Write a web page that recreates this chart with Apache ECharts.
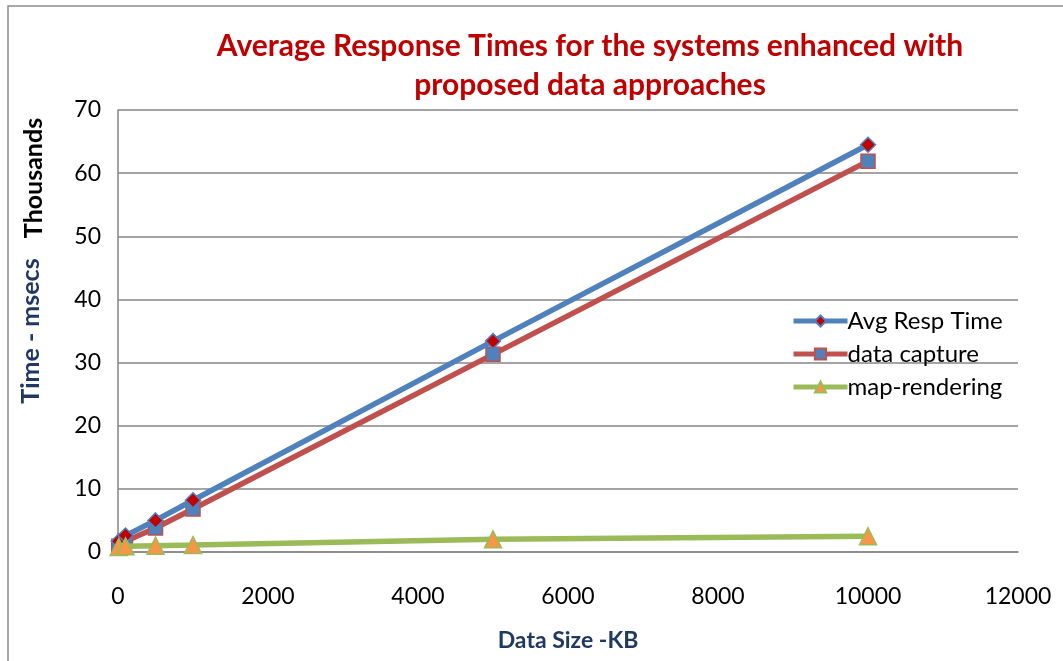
<!DOCTYPE html>
<html>
<head>
<meta charset="utf-8">
<script src="https://cdn.jsdelivr.net/npm/echarts@6/dist/echarts.min.js"></script>
<style>
  html, body { margin: 0; padding: 0; background: #fff; overflow: hidden; }
  #chart { width: 1063px; height: 661px; }
</style>
</head>
<body>
<div id="chart"></div>
<script>
// Data size in KB and response times in milliseconds
const dataSizes = [10, 100, 500, 1000, 5000, 10000];
const avgRespTime = [1700, 2600, 5000, 8200, 33400, 64500];
const dataCapture = [900, 1700, 3800, 6800, 31300, 61900];
const mapRendering = [800, 900, 1000, 1100, 2000, 2500];

const seriesNames = ['Avg Resp Time', 'data capture', 'map-rendering'];
const xTicks = { min: 0, max: 12000, step: 2000 };
const yTicks = { min: 0, max: 70000, step: 10000 };

const pairs = ys => dataSizes.map((x, i) => [x, ys[i]]);

const labelFont = 'Lato, "Open Sans", sans-serif';
const chart = echarts.init(document.getElementById('chart'));

chart.setOption({
  animation: false,
  backgroundColor: '#fff',
  title: {
    text: 'Average Response Times for the systems enhanced with\nproposed data approaches',
    left: 585,
    textAlign: 'center',
    top: 22,
    textStyle: {
      color: '#C00000',
      fontFamily: labelFont,
      fontWeight: 'bold',
      fontSize: 30,
      lineHeight: 39
    }
  },
  grid: { left: 118, width: 900, top: 110, height: 442, containLabel: false },
  legend: {
    orient: 'vertical',
    left: 786,
    top: 304,
    itemWidth: 54,
    itemHeight: 14,
    itemGap: 9,
    data: seriesNames,
    lineStyle: { width: 5 },
    textStyle: { color: '#000', fontFamily: labelFont, fontSize: 24, padding: [0, 0, 0, -5] }
  },
  xAxis: {
    type: 'value',
    min: xTicks.min,
    max: xTicks.max,
    interval: xTicks.step,
    name: 'Data Size -KB',
    nameLocation: 'middle',
    nameGap: 77,
    nameTextStyle: { color: '#1F3864', fontFamily: labelFont, fontWeight: 'bold', fontSize: 23 },
    axisLine: { show: true, lineStyle: { color: '#868686', width: 1.5 } },
    axisTick: { show: false },
    splitLine: { show: false },
    axisLabel: {
      color: '#000', fontFamily: labelFont, fontSize: 23, margin: 33,
      formatter: v => String(v)
    }
  },
  yAxis: {
    type: 'value',
    min: yTicks.min,
    max: yTicks.max,
    interval: yTicks.step,
    name: 'Time - msecs',
    nameLocation: 'middle',
    nameRotate: 90,
    nameGap: 75,
    nameTextStyle: { color: '#1F3864', fontFamily: labelFont, fontWeight: 'bold', fontSize: 25, padding: [0, 0, 0, 0] },
    axisLine: { show: true, lineStyle: { color: '#868686', width: 1.5 } },
    axisTick: { show: false },
    splitLine: { show: true, lineStyle: { color: '#868686', width: 1.5 } },
    axisLabel: {
      color: '#000', fontFamily: labelFont, fontSize: 23, margin: 17,
      formatter: v => String(v / 1000)
    }
  },
  graphic: [
    {
      type: 'rect',
      shape: { x: 8, y: 6, width: 1080, height: 680 },
      style: { fill: 'none', stroke: '#8c8c8c', lineWidth: 1.5 },
      silent: true
    },
    {
      type: 'text',
      x: 34,
      y: 178,
      rotation: Math.PI / 2,
      style: {
        text: 'Thousands',
        fill: '#000',
        font: 'bold 25px ' + labelFont,
        textAlign: 'center',
        textVerticalAlign: 'middle'
      }
    }
  ],
  series: [
    {
      name: seriesNames[0],
      type: 'line',
      data: pairs(avgRespTime),
      lineStyle: { color: '#4F81BD', width: 5.5 },
      symbol: 'diamond',
      symbolSize: 15,
      itemStyle: { color: '#C00000', borderColor: '#4F81BD', borderWidth: 1.5 },
      z: 3
    },
    {
      name: seriesNames[1],
      type: 'line',
      data: pairs(dataCapture),
      lineStyle: { color: '#C0504D', width: 5.5 },
      symbol: 'rect',
      symbolSize: 14,
      itemStyle: { color: '#4F81BD', borderColor: '#C0504D', borderWidth: 1.5 },
      z: 2
    },
    {
      name: seriesNames[2],
      type: 'line',
      data: pairs(mapRendering),
      lineStyle: { color: '#9BBB59', width: 5.5 },
      symbol: 'triangle',
      symbolSize: 17,
      itemStyle: { color: '#F79646', borderColor: '#9BBB59', borderWidth: 1.5 },
      z: 4
    }
  ]
});
</script>
</body>
</html>
